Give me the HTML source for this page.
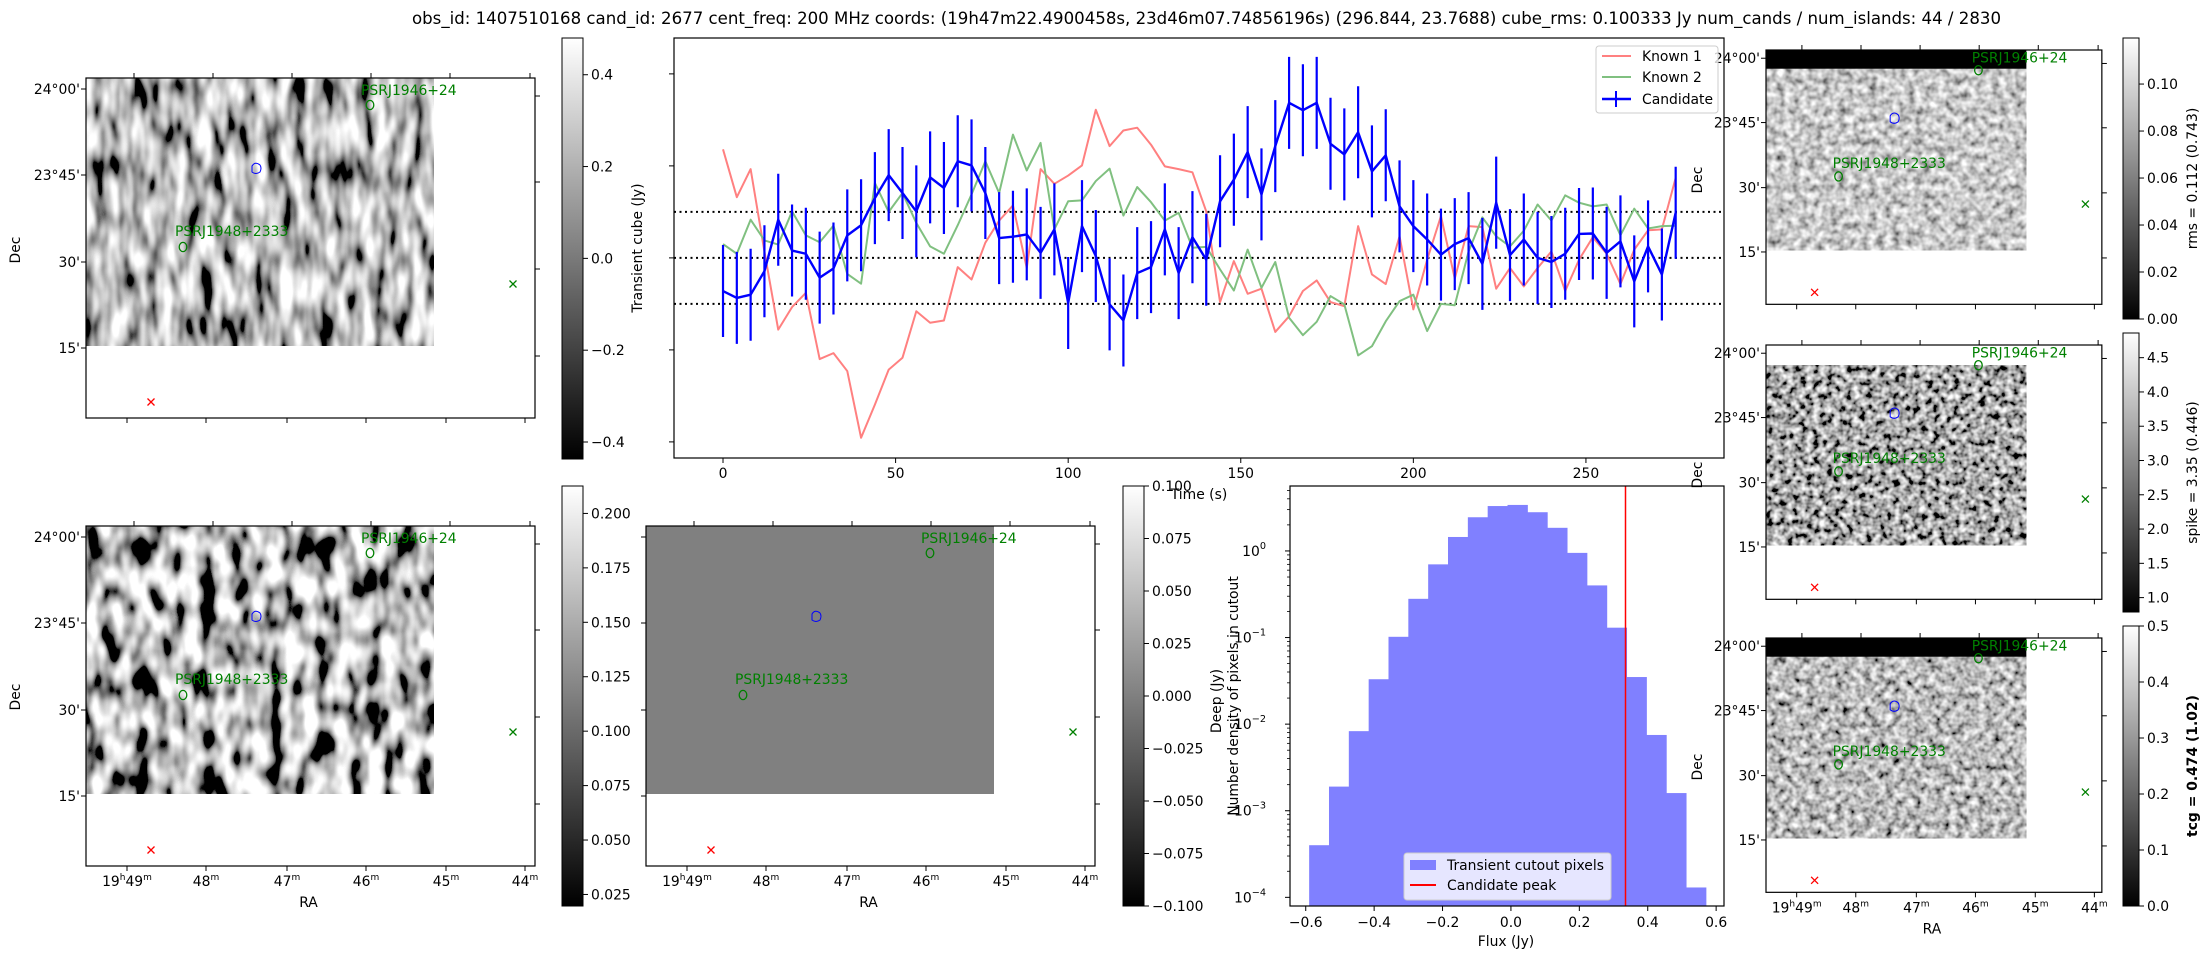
<!DOCTYPE html>
<html><head><meta charset="utf-8"><style>
html,body{margin:0;padding:0;background:#fff;}
svg{display:block;font-family:"DejaVu Sans","Liberation Sans",sans-serif;}
</style></head><body>
<svg id="fig" width="2207" height="959" viewBox="0 0 2207 959" xmlns="http://www.w3.org/2000/svg">
<defs>
<linearGradient id="gray" x1="0" y1="1" x2="0" y2="0"><stop offset="0" stop-color="#000"/><stop offset="1" stop-color="#fff"/></linearGradient>
<filter id="nz1" x="0" y="0" width="100%" height="100%"><feTurbulence type="fractalNoise" baseFrequency="0.075 0.026" numOctaves="2" seed="3"/><feColorMatrix type="matrix" values="2.3 0 0 0 -0.65  2.3 0 0 0 -0.65  2.3 0 0 0 -0.65  0 0 0 0 1"/></filter>
<filter id="nz2" x="0" y="0" width="100%" height="100%"><feTurbulence type="fractalNoise" baseFrequency="0.06 0.03" numOctaves="2" seed="11"/><feColorMatrix type="matrix" values="3.0 0 0 0 -1.0  3.0 0 0 0 -1.0  3.0 0 0 0 -1.0  0 0 0 0 1"/></filter>
<filter id="nz3" x="0" y="0" width="100%" height="100%"><feTurbulence type="fractalNoise" baseFrequency="0.13" numOctaves="2" seed="5"/><feColorMatrix type="matrix" values="1.4 0 0 0 -0.12  1.4 0 0 0 -0.12  1.4 0 0 0 -0.12  0 0 0 0 1"/></filter>
<filter id="nz4" x="0" y="0" width="100%" height="100%"><feTurbulence type="fractalNoise" baseFrequency="0.15" numOctaves="2" seed="8"/><feColorMatrix type="matrix" values="2.0 0 0 0 -0.6  2.0 0 0 0 -0.6  2.0 0 0 0 -0.6  0 0 0 0 1"/></filter>
<filter id="nz5" x="0" y="0" width="100%" height="100%"><feTurbulence type="fractalNoise" baseFrequency="0.14" numOctaves="2" seed="21"/><feColorMatrix type="matrix" values="1.6 0 0 0 -0.3  1.6 0 0 0 -0.3  1.6 0 0 0 -0.3  0 0 0 0 1"/></filter>
</defs>
<text x="412" y="24" font-size="16.7" textLength="1589" lengthAdjust="spacingAndGlyphs">obs_id: 1407510168 cand_id: 2677 cent_freq: 200 MHz coords: (19h47m22.4900458s, 23d46m07.74856196s) (296.844, 23.7688) cube_rms: 0.100333 Jy num_cands / num_islands: 44 / 2830</text>
<g id="root"></g>
</svg>
<script>
// ---------- light curve data ----------
const times = [0,4,8,12,16,20,24,28,32,36,40,44,48,52,56,60,64,68,72,76,80,84,88,92,96,100,104,108,112,116,120,124,128,132,136,140,144,148,152,156,160,164,168,172,176,180,184,188,192,196,200,204,208,212,216,220,224,228,232,236,240,244,248,252,256,260,264,268,272,276];
const candidate = [-0.072,-0.087,-0.080,-0.029,0.083,0.016,0.009,-0.043,-0.023,0.049,0.071,0.130,0.180,0.141,0.101,0.175,0.152,0.210,0.201,0.141,0.043,0.046,0.051,0.011,0.062,-0.098,0.069,0.004,-0.101,-0.136,-0.033,-0.020,0.062,-0.033,0.045,-0.004,0.123,0.170,0.230,0.138,0.243,0.337,0.321,0.337,0.248,0.225,0.273,0.188,0.223,0.112,0.069,0.040,0.007,0.030,0.043,-0.013,0.120,0.006,0.040,0.000,-0.009,0.009,0.052,0.053,0.011,0.036,-0.051,0.025,-0.036,0.098];
const candidateErr = [0.1,0.1,0.1,0.1,0.1,0.1,0.1,0.1,0.1,0.1,0.1,0.1,0.1,0.1,0.1,0.1,0.1,0.1,0.1,0.1,0.1,0.1,0.1,0.1,0.1,0.1,0.1,0.1,0.1,0.1,0.1,0.1,0.1,0.1,0.1,0.1,0.1,0.1,0.1,0.1,0.1,0.1,0.1,0.1,0.1,0.1,0.1,0.1,0.1,0.1,0.1,0.1,0.1,0.1,0.1,0.1,0.1,0.1,0.1,0.1,0.1,0.1,0.1,0.1,0.1,0.1,0.1,0.1,0.1,0.1];
const known1 = [0.236,0.132,0.193,0.014,-0.156,-0.107,-0.076,-0.220,-0.207,-0.246,-0.391,-0.319,-0.243,-0.217,-0.116,-0.141,-0.136,-0.020,-0.047,0.033,0.081,0.114,-0.022,0.193,0.161,0.179,0.201,0.322,0.243,0.277,0.283,0.246,0.199,0.193,0.186,0.101,-0.096,-0.007,-0.078,-0.067,-0.161,-0.127,-0.072,-0.049,-0.096,-0.105,0.069,-0.036,-0.057,0.047,-0.112,-0.004,0.091,-0.045,0.069,0.067,-0.067,-0.022,-0.062,-0.022,0.014,-0.072,-0.004,0.045,0.009,-0.057,0.018,0.060,0.062,0.174];
const known2 = [0.030,0.009,0.083,0.038,0.029,0.101,0.049,0.034,0.070,-0.035,-0.056,0.163,0.100,0.141,0.076,0.025,0.009,0.071,0.138,0.210,0.141,0.268,0.190,0.250,0.062,0.123,0.125,0.167,0.194,0.092,0.154,0.121,0.081,0.098,0.022,0.024,-0.025,-0.071,0.018,-0.065,-0.009,-0.130,-0.168,-0.139,-0.083,-0.101,-0.212,-0.192,-0.138,-0.094,-0.080,-0.159,-0.100,-0.103,0.014,0.088,0.047,0.025,0.059,0.116,0.081,0.136,0.120,0.112,0.116,0.049,0.107,0.064,0.069,0.070];
const thresholds = [0.1, 0, -0.1];
const timeTicks = [0,50,100,150,200,250];
const lcYTicks = [-0.4,-0.2,0,0.2,0.4];
// ---------- histogram data ----------
const binStart = -0.59;
const binWidth = 0.058;
const binDensity = [4.0e-4,1.9e-3,8.3e-3,0.033,0.102,0.28,0.70,1.45,2.45,3.3,3.4,2.8,1.85,0.95,0.40,0.13,0.035,7.5e-3,1.6e-3,1.3e-4];
const candidatePeak = 0.335;
const fluxTicks = [-0.6,-0.4,-0.2,0.0,0.2,0.4,0.6];
const logTicks = [0,-1,-2,-3,-4];

const NS = 'http://www.w3.org/2000/svg';
const root = document.getElementById('root');
function mk(tag, attrs, parent, txt){
  const e = document.createElementNS(NS, tag);
  for (const k in attrs) e.setAttribute(k, attrs[k]);
  if (txt !== undefined) e.textContent = txt;
  (parent || root).appendChild(e);
  return e;
}
function grp(name){
  const g = mk('g', {});
  
  
  return g;
}
const FS = 13.9;

// ---------- image panels ----------
function raLabel(g, x, y, hrs, min){
  const t = mk('text', {x:x, y:y, 'font-size':FS, 'text-anchor':'middle'}, g);
  if (hrs){ t.appendChild(document.createTextNode('19')); mk('tspan',{'font-size':9,dy:-6},t,'h'); mk('tspan',{dy:6},t,'49'); }
  else t.appendChild(document.createTextNode(min));
  mk('tspan', {'font-size':9, dy:-6}, t, 'm');
}
function imagePanel(name, ox, oy, s, opt){
  const g = grp(name);
  const W = 449*s, H = 340*s;
  const iw = 348*s;
  if (opt.gray) mk('rect', {x:ox, y:oy+opt.imgTop*s, width:iw, height:(268-opt.imgTop)*s, fill:opt.gray}, g);
  else mk('rect', {x:ox, y:oy+opt.imgTop*s, width:iw, height:(268-opt.imgTop)*s, fill:'#808080', filter:'url(#'+opt.filter+')'}, g);
  if (opt.band) mk('rect', {x:ox, y:oy, width:iw, height:opt.band*s, fill:'#000'}, g);
  mk('rect', {x:ox, y:oy, width:W, height:H, fill:'none', stroke:'#000', 'stroke-width':1.2}, g);
  [48,127,206,285,364,444].forEach(t=>mk('line',{x1:ox+t*s,y1:oy,x2:ox+t*s,y2:oy-5,stroke:'#000'},g));
  [41,120,201,280,360,439].forEach(t=>mk('line',{x1:ox+t*s,y1:oy+H,x2:ox+t*s,y2:oy+H+5,stroke:'#000'},g));
  [18,104,191,278].forEach(t=>mk('line',{x1:ox+W,y1:oy+t*s,x2:ox+W+5,y2:oy+t*s,stroke:'#000'},g));
  const decs = ["24°00'","23°45'","30'","15'"];
  [11,97,184,270].forEach((t,i)=>{
    mk('line',{x1:ox,y1:oy+t*s,x2:ox-5,y2:oy+t*s,stroke:'#000'},g);
    if (opt.decLabels) mk('text',{x:ox-6,y:oy+t*s+5,'font-size':FS,'text-anchor':'end'},g,decs[i]);
  });
  if (opt.raLabels){
    const mins=['','48','47','46','45','44'];
    [41,120,201,280,360,439].forEach((t,i)=>raLabel(g, ox+t*s, oy+H+20, i===0, mins[i]));
    mk('text',{x:ox+W/2-2,y:oy+H+41,'font-size':FS,'text-anchor':'middle'},g,'RA');
  }
  mk('text',{x:ox+275*s,y:oy+17*s,'font-size':FS,fill:'#008000'},g,'PSRJ1946+24');
  mk('ellipse',{cx:ox+284*s,cy:oy+27*s,rx:3.8,ry:4.6,fill:'none',stroke:'#008000','stroke-width':1.3},g);
  mk('text',{x:ox+89*s,y:oy+158*s,'font-size':FS,fill:'#008000'},g,'PSRJ1948+2333');
  mk('ellipse',{cx:ox+97*s,cy:oy+169*s,rx:3.8,ry:4.6,fill:'none',stroke:'#008000','stroke-width':1.3},g);
  mk('path',{d:`M${ox+166*s},${oy+88*s} q3,-5 8,-1 q2,3 0,7 q-4,3 -8,0 z`,fill:'none',stroke:'#0000ff','stroke-width':1},g);
  const gx=ox+427*s, gy=oy+206*s;
  mk('path',{d:`M${gx-3.5},${gy-3.5}L${gx+3.5},${gy+3.5}M${gx-3.5},${gy+3.5}L${gx+3.5},${gy-3.5}`,stroke:'#008000','stroke-width':1.3},g);
  const rx=ox+65*s, ry=oy+324*s;
  mk('path',{d:`M${rx-3.5},${ry-3.5}L${rx+3.5},${ry+3.5}M${rx-3.5},${ry+3.5}L${rx+3.5},${ry-3.5}`,stroke:'#ff0000','stroke-width':1.3},g);
  if (opt.decTitle) mk('text',{x:0,y:0,'font-size':FS,'text-anchor':'middle',transform:`translate(${opt.decTitle[0]},${opt.decTitle[1]}) rotate(-90)`},g,'Dec');
}
imagePanel('transient-image-panel', 86, 78, 1, {filter:'nz1', imgTop:0, decLabels:true, decTitle:[20,250]});
imagePanel('deep-image-panel', 86, 526, 1, {filter:'nz2', imgTop:0, decLabels:true, raLabels:true, decTitle:[20,697]});
imagePanel('gleam-image-panel', 646, 526, 1, {gray:'#808080', imgTop:0, raLabels:true});
imagePanel('rms-image-panel', 1766, 50, 0.748, {filter:'nz3', imgTop:0, band:25, decLabels:true, decTitle:[1702,180]});
imagePanel('spike-image-panel', 1766, 345, 0.748, {filter:'nz4', imgTop:27, decLabels:true, decTitle:[1702,475]});
imagePanel('tcg-image-panel', 1766, 638, 0.748, {filter:'nz5', imgTop:0, band:25, decLabels:true, raLabels:true, decTitle:[1702,767]});

// ---------- colorbars ----------
function colorbar(name, x, y0, y1, w, vmin, vmax, ticks, fmt, label, bold){
  const g = grp(name);
  mk('rect',{x:x,y:y0,width:w,height:y1-y0,fill:'url(#gray)',stroke:'#000','stroke-width':1},g);
  ticks.forEach(v=>{
    const y = y1 - (v-vmin)/(vmax-vmin)*(y1-y0);
    mk('line',{x1:x+w,y1:y,x2:x+w+5,y2:y,stroke:'#000'},g);
    mk('text',{x:x+w+8,y:y+5,'font-size':FS},g,fmt(v).replace('-','\u2212'));
  });
  if (label){
    mk('text',{x:0,y:0,'font-size':FS,'text-anchor':'middle','font-weight':bold?'bold':'normal',transform:`translate(${x+w+58},${(y0+y1)/2}) rotate(-90)`},g,label);
  }
}
const f1=v=>v.toFixed(1), f2=v=>v.toFixed(2), f3=v=>v.toFixed(3);
colorbar('transient-colorbar',562,38,459,21,-0.437,0.48,[-0.4,-0.2,0,0.2,0.4],f1);
colorbar('deep-colorbar',562,486,906,21,0.0197,0.2126,[0.025,0.05,0.075,0.1,0.125,0.15,0.175,0.2],f3);
colorbar('gleam-colorbar',1123,486,906,21,-0.1,0.1,[-0.1,-0.075,-0.05,-0.025,0,0.025,0.05,0.075,0.1],f3);
colorbar('rms-colorbar',2123,38,319,16,0,0.1196,[0,0.02,0.04,0.06,0.08,0.10],f2,'rms = 0.112 (0.743)');
colorbar('spike-colorbar',2123,333,612,16,0.79,4.86,[1.0,1.5,2.0,2.5,3.0,3.5,4.0,4.5],f1,'spike = 3.35 (0.446)');
colorbar('tcg-colorbar',2123,626,906,16,0,0.5,[0,0.1,0.2,0.3,0.4,0.5],f1,'tcg = 0.474 (1.02)',true);

// ---------- light curve ----------
(function(){
  const g = grp('light-curve-chart');
  const L=674,R=1724,T=38,B=458, tmin=-14.2, tmax=290, vmin=-0.435, vmax=0.478;
  const X=t=>L+(t-tmin)/(tmax-tmin)*(R-L);
  const Y=v=>B-(v-vmin)/(vmax-vmin)*(B-T);
  thresholds.forEach(v=>{
    const l=mk('line',{x1:L,x2:R,y1:Y(v),y2:Y(v),stroke:'#000','stroke-width':2,'stroke-dasharray':'2 3.5'},g);
    
    
  });
  function line(vals,color,w,name){
    const p=mk('polyline',{points:vals.map((v,i)=>X(times[i])+','+Y(v)).join(' '),fill:'none',stroke:color,'stroke-width':w,'stroke-linejoin':'round'},g);
    
    
  }
  line(known1,'#ff8080',2,'known-1-line');
  line(known2,'#80c080',2,'known-2-line');
  candidate.forEach((v,i)=>{
    const e=mk('line',{x1:X(times[i]),x2:X(times[i]),y1:Y(v-candidateErr[i]),y2:Y(v+candidateErr[i]),stroke:'#0000ff','stroke-width':2.2},g);
    
    
  });
  line(candidate,'#0000ff',2.4,'candidate-line');
  mk('rect',{x:L,y:T,width:R-L,height:B-T,fill:'none',stroke:'#000','stroke-width':1.2},g);
  timeTicks.forEach(t=>{ mk('line',{x1:X(t),x2:X(t),y1:B,y2:B+5,stroke:'#000'},g); mk('text',{x:X(t),y:B+20,'font-size':FS,'text-anchor':'middle'},g,String(t)); });
  lcYTicks.forEach(v=>mk('line',{x1:L,x2:L-5,y1:Y(v),y2:Y(v),stroke:'#000'},g));
  mk('text',{x:1199,y:499,'font-size':FS,'text-anchor':'middle'},g,'Time (s)');
  mk('text',{x:0,y:0,'font-size':FS,'text-anchor':'middle',transform:'translate(642,248) rotate(-90)'},g,'Transient cube (Jy)');
  const lg = grp('light-curve-legend');
  mk('rect',{x:1596,y:46,width:122,height:67,rx:3,fill:'#fff','fill-opacity':0.8,stroke:'#ccc'},lg);
  mk('line',{x1:1602,x2:1631,y1:56,y2:56,stroke:'#ff8080','stroke-width':2},lg); mk('text',{x:1642,y:61,'font-size':FS},lg,'Known 1');
  mk('line',{x1:1602,x2:1631,y1:77,y2:77,stroke:'#80c080','stroke-width':2},lg); mk('text',{x:1642,y:82,'font-size':FS},lg,'Known 2');
  mk('line',{x1:1602,x2:1631,y1:99,y2:99,stroke:'#0000ff','stroke-width':2.4},lg); mk('line',{x1:1616,x2:1616,y1:91,y2:107,stroke:'#0000ff','stroke-width':2},lg); mk('text',{x:1642,y:104,'font-size':FS},lg,'Candidate');
})();

// ---------- histogram ----------
(function(){
  const g = grp('flux-histogram');
  const L=1290,R=1724,T=486,B=906, xmin=-0.646, xmax=0.623, lmin=-4.10, lmax=0.75;
  const X=v=>L+(v-xmin)/(xmax-xmin)*(R-L);
  const Y=d=>B-(Math.log10(d)-lmin)/(lmax-lmin)*(B-T);
  binDensity.forEach((d,i)=>{
    const x0=X(binStart+i*binWidth), x1=X(binStart+(i+1)*binWidth);
    const r=mk('rect',{x:x0,y:Y(d),width:x1-x0+0.5,height:B-Y(d),fill:'#8080ff'},g);
    
    
  });
  const pk=mk('line',{x1:X(candidatePeak),x2:X(candidatePeak),y1:T,y2:B,stroke:'#ff0000','stroke-width':1.5},g);
  
  
  mk('rect',{x:L,y:T,width:R-L,height:B-T,fill:'none',stroke:'#000','stroke-width':1.2},g);
  fluxTicks.forEach(v=>{ mk('line',{x1:X(v),x2:X(v),y1:B,y2:B+5,stroke:'#000'},g); mk('text',{x:X(v),y:B+21,'font-size':FS,'text-anchor':'middle'},g,v.toFixed(1).replace('-','\u2212')); });
  logTicks.forEach(e=>{
    const y=Y(Math.pow(10,e));
    mk('line',{x1:L,x2:L-5,y1:y,y2:y,stroke:'#000'},g);
    const t=mk('text',{x:L-24,y:y+5,'font-size':FS,'text-anchor':'end'},g,'10');
    mk('tspan',{'font-size':9.7,dy:-7},t,e===0?'0':'\u2212'+(-e));
    for(let m=2;m<10;m++){ const yy=Y(m*Math.pow(10,e)); if(yy>T&&yy<B) mk('line',{x1:L,x2:L-3,y1:yy,y2:yy,stroke:'#000','stroke-width':0.8},g); }
  });
  mk('text',{x:1506,y:946,'font-size':FS,'text-anchor':'middle'},g,'Flux (Jy)');
  mk('text',{x:0,y:0,'font-size':FS,'text-anchor':'middle',transform:'translate(1238,696) rotate(-90)'},g,'Number density of pixels in cutout');
  mk('text',{x:0,y:0,'font-size':FS,'text-anchor':'middle',transform:'translate(1221,701) rotate(-90)'},g,'Deep (Jy)');
  const lg=grp('histogram-legend');
  mk('rect',{x:1404,y:853,width:207,height:47,rx:3,fill:'#fff','fill-opacity':0.8,stroke:'#ccc'},lg);
  mk('rect',{x:1410,y:860,width:26,height:10,fill:'#8080ff'},lg); mk('text',{x:1447,y:870,'font-size':FS},lg,'Transient cutout pixels');
  mk('line',{x1:1410,x2:1436,y1:885,y2:885,stroke:'#ff0000','stroke-width':2},lg); mk('text',{x:1447,y:890,'font-size':FS},lg,'Candidate peak');
})();
</script>
</body></html>
